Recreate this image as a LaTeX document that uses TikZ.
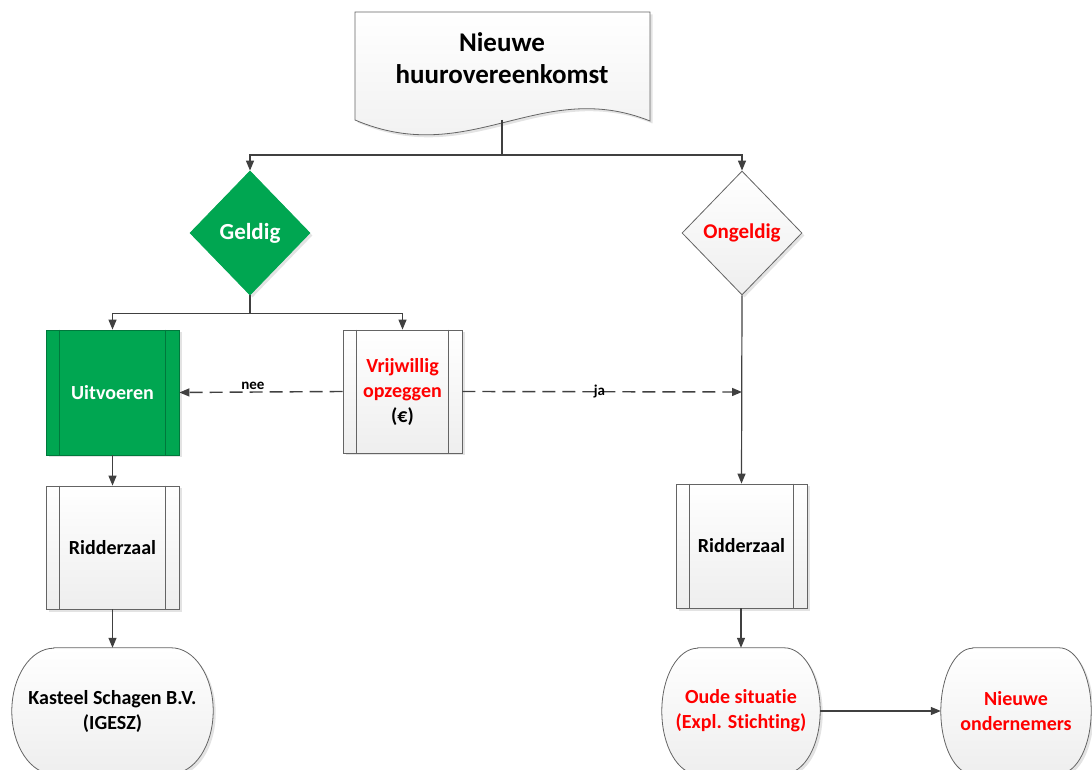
\documentclass[tikz,border=0pt]{standalone}
\usepackage{fontspec}
\setmainfont{Carlito}[Ligatures=NoCommon]
\usetikzlibrary{shapes.geometric,arrows.meta,shadows}
\definecolor{vgreen}{RGB}{0,166,81}
\definecolor{vgreendk}{RGB}{0,120,60}
\definecolor{vred}{RGB}{255,0,0}
\definecolor{vline}{RGB}{64,64,64}
\definecolor{vborder}{RGB}{100,100,100}
\definecolor{vlight}{RGB}{238,238,238}
\begin{document}
\begin{tikzpicture}[x=1pt,y=1pt,
  every node/.style={font=\bfseries\fontsize{20}{25}\selectfont, align=center},
  sh/.style={drop shadow={opacity=0.22,shadow xshift=2.5pt,shadow yshift=-2.5pt}},
  procbox/.style={rectangle, draw=vborder, line width=0.8pt, top color=white, bottom color=vlight, sh},
  decbox/.style={diamond, line width=0.8pt, minimum width=120pt, minimum height=124pt, inner sep=0pt, sh},
  termbox/.style={rectangle, inner sep=0pt},
  termdraw/.style={draw=vborder, line width=0.8pt, top color=white, bottom color=vlight, sh},
  conn/.style={draw=vline, line width=1.2pt, -{Triangle[length=10pt,width=8pt]}},
  dconn/.style={conn, line width=1.4pt, dash pattern=on 13pt off 7pt},
  lbl/.style={font=\bfseries\fontsize{15}{18}\selectfont, inner sep=0.5pt, text=black}
]
\useasboundingbox (0,0) rectangle (1092,769);

% document shape
\draw[termdraw] (355,757) -- (650,757) -- (650,648)
   .. controls (540,692) and (470,600) .. (355,649) -- cycle;
\node[font=\bfseries\fontsize{27}{32}\selectfont] (doc) at (502,711) {Nieuwe\\huurovereenkomst};
\coordinate (docb) at (502,649);

% decisions
\node[decbox, fill=vgreen, draw=vgreen, text=white, font=\bfseries\fontsize{23}{27}\selectfont] (geld) at (250,536) {Geldig};
\node[decbox, draw=vborder, top color=white, bottom color=vlight, text=vred, font=\bfseries\fontsize{21}{25}\selectfont] (ong) at (742,536) {Ongeldig};

% process boxes
\node[rectangle, draw=vgreendk, line width=0.8pt, fill=vgreen, text=white, sh,
      minimum width=133pt, minimum height=125pt] (uit) at (112.5,376.5) {Uitvoeren};
\node[procbox, minimum width=119pt, minimum height=123pt] (vrij) at (402.5,377.5)
   {\textcolor{vred}{Vrijwillig}\\\textcolor{vred}{opzeggen}\\(€)};
\node[procbox, minimum width=133pt, minimum height=123pt] (ridL) at (112.5,221.5) {Ridderzaal};
\node[procbox, minimum width=131pt, minimum height=124pt] (ridR) at (741.5,223) {Ridderzaal};

\draw[vgreendk, line width=0.8pt] ([xshift=14pt]uit.north west) -- ([xshift=14pt]uit.south west)
  ([xshift=-14pt]uit.north east) -- ([xshift=-14pt]uit.south east);
\foreach \n in {vrij,ridL,ridR}{
  \draw[vborder, line width=0.8pt] ([xshift=14pt]\n.north west) -- ([xshift=14pt]\n.south west)
    ([xshift=-14pt]\n.north east) -- ([xshift=-14pt]\n.south east);
}

% terminators
\node[termbox, minimum width=201pt, minimum height=126pt] (kast) at (112.5,58) {};
\node[termbox, minimum width=158pt, minimum height=126pt] (oude) at (741,58) {};
\node[termbox, minimum width=150pt, minimum height=126pt] (nieuw) at (1016,58) {};
\foreach \n/\r in {kast/42,oude/36,nieuw/32}{
  \draw[termdraw] ([xshift=\r pt]\n.north west) -- ([xshift=-\r pt]\n.north east)
    arc[start angle=90,end angle=0,x radius=\r pt,y radius=63pt]
    arc[start angle=0,end angle=-90,x radius=\r pt,y radius=63pt]
    -- ([xshift=\r pt]\n.south west)
    arc[start angle=270,end angle=180,x radius=\r pt,y radius=63pt]
    arc[start angle=180,end angle=90,x radius=\r pt,y radius=63pt] -- cycle;
}
\node at (kast) {Kasteel Schagen B.V.\\(IGESZ)};
\node[text=vred] at (oude) {Oude situatie\\(Expl. Stichting)};
\node[text=vred] at (nieuw) {Nieuwe\\ondernemers};

% connectors
\draw[conn] (docb) -- ++(0,-35) -| (geld.north);
\draw[conn] (docb) -- ++(0,-35) -| (ong.north);
\draw[conn] (geld.south) -- ++(0,-18) -| (uit.north);
\draw[conn] (geld.south) -- ++(0,-18) -| (vrij.north);
\coordinate (jaend) at (742,377);
\draw[dconn] (vrij.west) -- node[lbl, pos=0.55, yshift=6pt] {nee} (uit.east);
\draw[dconn] (vrij.east) -- node[lbl, pos=0.49] {ja} (jaend);
\draw[conn] (ong.south) -- (ridR.north);
\draw[conn] (uit.south) -- (ridL.north);
\draw[conn] (ridL.south) -- (kast.north);
\draw[conn] (ridR.south -| oude.north) -- (oude.north);
\draw[conn] (oude.east) -- (nieuw.west);
\end{tikzpicture}
\end{document}
